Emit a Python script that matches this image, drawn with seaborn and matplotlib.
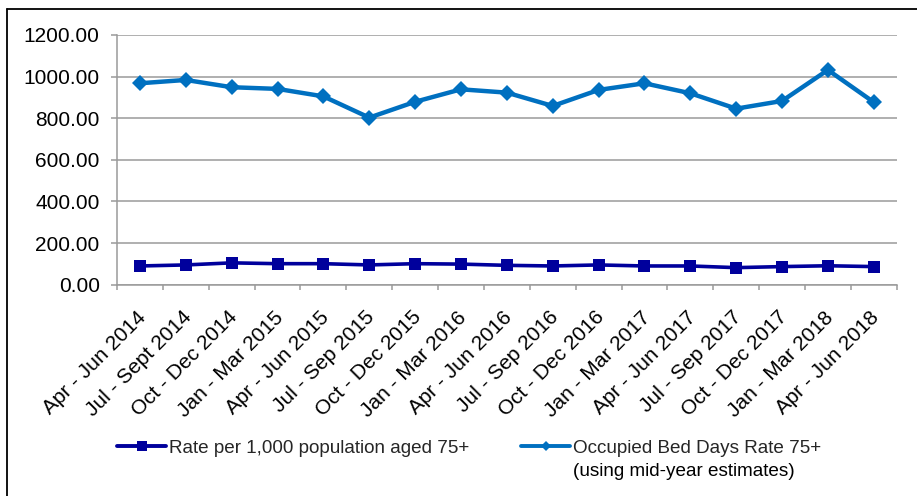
import matplotlib
matplotlib.use("Agg")
import matplotlib.pyplot as plt
from matplotlib.lines import Line2D
from matplotlib.transforms import ScaledTranslation
import seaborn as sns
import pandas as pd
import numpy as np

quarters = [
    "Apr - Jun 2014", "Jul - Sept 2014", "Oct - Dec 2014", "Jan - Mar 2015",
    "Apr - Jun 2015", "Jul - Sep 2015", "Oct - Dec 2015", "Jan - Mar 2016",
    "Apr - Jun 2016", "Jul - Sep 2016", "Oct - Dec 2016", "Jan - Mar 2017",
    "Apr - Jun 2017", "Jul - Sep 2017", "Oct - Dec 2017", "Jan - Mar 2018",
    "Apr - Jun 2018",
]
rate_per_1000 = [90, 95, 105, 101, 101, 95, 101, 99, 93, 90, 95, 90, 90, 82, 87, 91, 87]
bed_days_rate = [968, 984, 949, 941, 905, 803, 879, 939, 923, 859, 936, 968, 920, 846, 883, 1032, 877]

label_rate = "Rate per 1,000 population aged 75+"
label_beds = "Occupied Bed Days Rate 75+"
label_beds_note = "(using mid-year estimates)"
y_ticks = [0, 200, 400, 600, 800, 1000, 1200]

navy = "#00009C"
blue = "#0070C0"
grid_grey = "#9A9A9A"

sns.set_theme(style="white")
plt.rcParams["font.family"] = ["Liberation Sans", "DejaVu Sans"]

df = pd.DataFrame({
    "quarter": quarters * 2,
    "value": rate_per_1000 + bed_days_rate,
    "series": [label_rate] * len(quarters) + [label_beds] * len(quarters),
})

W, H, DPI = 917, 496, 100
fig = plt.figure(figsize=(W / DPI, H / DPI), dpi=DPI)
ax = fig.add_axes([117 / W, 1 - 284.7 / H, (896.7 - 117) / W, (284.7 - 35) / H])

sns.lineplot(data=df[df.series == label_rate], x="quarter", y="value", ax=ax,
             color=navy, linewidth=2.6, marker="s", markersize=8,
             markeredgewidth=0, sort=False, legend=False)
sns.lineplot(data=df[df.series == label_beds], x="quarter", y="value", ax=ax,
             color=blue, linewidth=3.2, marker="D", markersize=8.2,
             markeredgewidth=0, sort=False, legend=False)

ax.set_xlim(-0.5, len(quarters) - 0.5)
ax.set_ylim(0, 1200)
ax.set_yticks(y_ticks)
ax.set_yticklabels([f"{v:.2f}" for v in y_ticks])
ax.set_xlabel("")
ax.set_ylabel("")

ax.yaxis.grid(True, color=grid_grey, linewidth=1.1)
ax.set_axisbelow(True)
for side in ("top", "right"):
    ax.spines[side].set_visible(False)
for side in ("left", "bottom"):
    ax.spines[side].set_color(grid_grey)
    ax.spines[side].set_linewidth(1.1)

ax.tick_params(axis="y", which="major", direction="out", length=4.3, width=1.1,
               color=grid_grey, pad=8.2, labelsize=15, labelcolor="black", left=True)
# category boundaries carry the x tick marks, labels sit on the category centres
ax.set_xticks(np.arange(-0.5, len(quarters), 1.0), minor=True)
ax.tick_params(axis="x", which="minor", direction="out", length=3.6, width=1.1,
               color=grid_grey, bottom=True)
ax.tick_params(axis="x", which="major", length=0, pad=16.5, labelsize=15,
               labelcolor="black")
shift = ScaledTranslation(-4 / DPI, 0, fig.dpi_scale_trans)
for lbl in ax.get_xticklabels():
    lbl.set_rotation(45)
    lbl.set_ha("right")
    lbl.set_va("top")
    lbl.set_rotation_mode("anchor")
    lbl.set_transform(lbl.get_transform() + shift)

# outer chart frame (top and left edges fall inside the image)
fig.add_artist(Line2D([7 / W, 7 / W], [0, 1 - 9 / H], transform=fig.transFigure,
                      color="black", linewidth=1.3))
fig.add_artist(Line2D([7 / W, 1], [1 - 9 / H, 1 - 9 / H], transform=fig.transFigure,
                      color="black", linewidth=1.3))

handles = [
    Line2D([], [], color=navy, linewidth=2.8, marker="s", markersize=7, markeredgewidth=0),
    Line2D([], [], color=blue, linewidth=2.8, marker="D", markersize=5, markeredgewidth=0),
]
leg = fig.legend(handles, [label_rate, label_beds], ncol=2, frameon=False,
                 loc="center left", bbox_to_anchor=(117 / W, 1 - 448 / H),
                 borderpad=0, borderaxespad=0, handlelength=2.6, handletextpad=0.15,
                 columnspacing=2.75, fontsize=13.6, numpoints=1)

fig.canvas.draw()
txt = leg.get_texts()[1]
bb = txt.get_window_extent(fig.canvas.get_renderer())
fig.text(bb.x0 / W, bb.y0 / H - 23 / H, label_beds_note, fontsize=13.6,
         ha="left", va="bottom", color="black")

fig.savefig("out.png", dpi=DPI, facecolor="white")
